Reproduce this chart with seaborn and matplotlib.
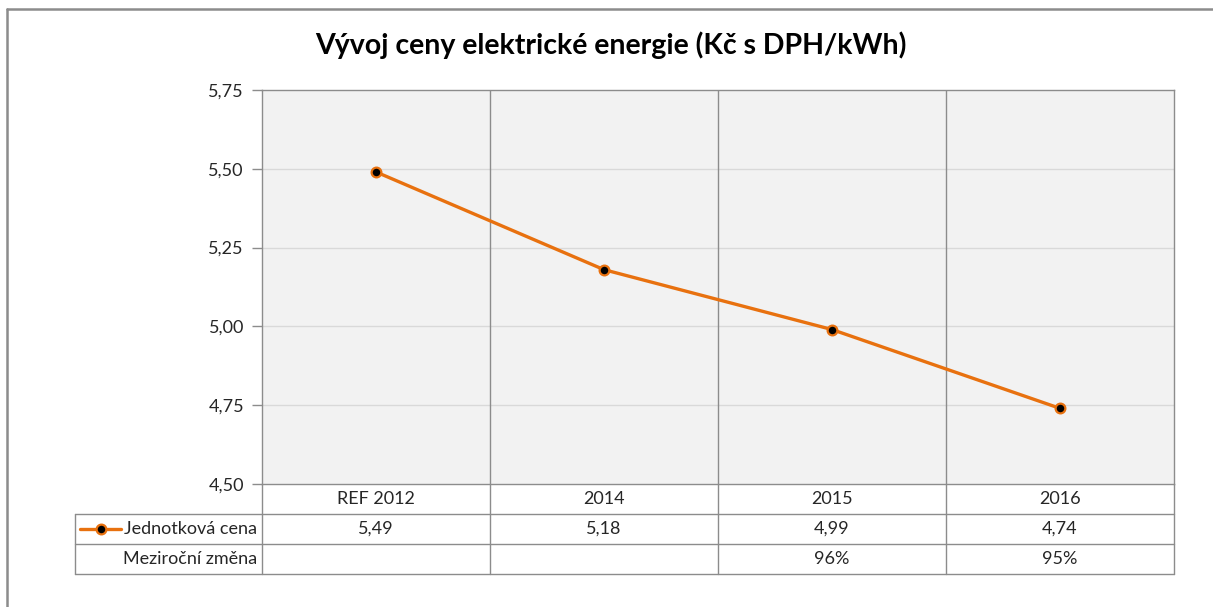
import matplotlib
matplotlib.use("Agg")
import matplotlib.pyplot as plt
from matplotlib.lines import Line2D
import seaborn as sns
import pandas as pd

sns.set_style("white")
plt.rcParams["font.family"] = ["Lato", "DejaVu Sans"]

# data
categories = ["REF 2012", "2014", "2015", "2016"]
unit_price = [5.49, 5.18, 4.99, 4.74]
yoy_change = ["", "", "96%", "95%"]
y_ticks = [4.50, 4.75, 5.00, 5.25, 5.50, 5.75]
series_name = "Jednotková cena"
row2_name = "Meziroční změna"
title = "Vývoj ceny elektrické energie (Kč s DPH/kWh)"

ORANGE = "#E8710F"
GRID = "#d9d9d9"
DARK = "#8c8c8c"
TXT = "#262626"
FS = 13

df = pd.DataFrame({"pos": range(len(categories)), "cena": unit_price})

W, H = 1213, 607
fig = plt.figure(figsize=(W / 100, H / 100), dpi=100)
L, R, T, B = 262, 1174, 90, 484
ax = fig.add_axes([L / W, 1 - B / H, (R - L) / W, (B - T) / H])
ax.set_facecolor("#f2f2f2")

sns.lineplot(data=df, x="pos", y="cena", ax=ax, color=ORANGE, lw=2.4,
             marker="o", markersize=7, markerfacecolor="black",
             markeredgecolor=ORANGE, markeredgewidth=1.6, zorder=5)

ax.set_xlim(-0.5, len(categories) - 0.5)
ax.set_ylim(y_ticks[0], y_ticks[-1])
ax.set_yticks(y_ticks)
ax.set_yticklabels([f"{v:.2f}".replace(".", ",") for v in y_ticks],
                   fontsize=FS, color=TXT)
ax.set_xticks([])
ax.set_xlabel("")
ax.set_ylabel("")
ax.tick_params(axis="y", length=7, color=DARK, width=1, pad=6, left=True)
for y in y_ticks[1:-1]:
    ax.axhline(y, color=GRID, lw=1, zorder=1)
for i in range(1, len(categories)):
    ax.axvline(i - 0.5, color=DARK, lw=1, zorder=2)
for s in ax.spines.values():
    s.set_color(DARK)
    s.set_linewidth(1)

# data table below the plot (axes coords for y, data coords for x)
ah = B - T
def fy(py):
    return (B - py) / ah
def fx(px):
    return (px - L) / (R - L)

row_y = [484, 514, 544, 574]
tbl = dict(color=DARK, lw=1, clip_on=False, transform=ax.transAxes)
for py in row_y[1:]:
    ax.add_line(Line2D([fx(75), 1], [fy(py), fy(py)], **tbl))
for i in range(len(categories) + 1):
    ax.add_line(Line2D([(i) / len(categories)] * 2, [fy(484), fy(574)], **tbl))
ax.add_line(Line2D([fx(75)] * 2, [fy(514), fy(574)], **tbl))

tr = ax.get_xaxis_transform()
for i, cat in enumerate(categories):
    ax.text(i, fy(499), cat, transform=tr, ha="center", va="center",
            fontsize=FS, color=TXT)
    ax.text(i, fy(529), f"{unit_price[i]:.2f}".replace(".", ","), transform=tr,
            ha="center", va="center", fontsize=FS, color=TXT)
    ax.text(i, fy(559), yoy_change[i], transform=tr, ha="center",
            va="center", fontsize=FS, color=TXT)

ax.text(fx(257), fy(529), series_name, transform=ax.transAxes, ha="right",
        va="center", fontsize=FS, color=TXT)
ax.text(fx(257), fy(559), row2_name, transform=ax.transAxes, ha="right",
        va="center", fontsize=FS, color=TXT)
ax.add_line(Line2D([fx(80), fx(121)], [fy(529)] * 2, color=ORANGE, lw=2.4,
                   clip_on=False, transform=ax.transAxes))
ax.add_line(Line2D([fx(101)], [fy(529)], marker="o", markersize=7,
                   markerfacecolor="black", markeredgecolor=ORANGE,
                   markeredgewidth=1.6, clip_on=False, transform=ax.transAxes))

fig.text(611 / W, 1 - 45 / H, title, ha="center", va="center",
         fontsize=20.5, fontweight="bold", color="black")

# outer chart border (cropped screenshot: only top and left visible)
fig.add_artist(Line2D([6.5 / W, 1], [1 - 8.5 / H] * 2, color="#8c8c8c", lw=1.8))
fig.add_artist(Line2D([6.5 / W] * 2, [0, 1 - 8.5 / H], color="#8c8c8c", lw=1.8))

fig.savefig("out.png", dpi=100)
